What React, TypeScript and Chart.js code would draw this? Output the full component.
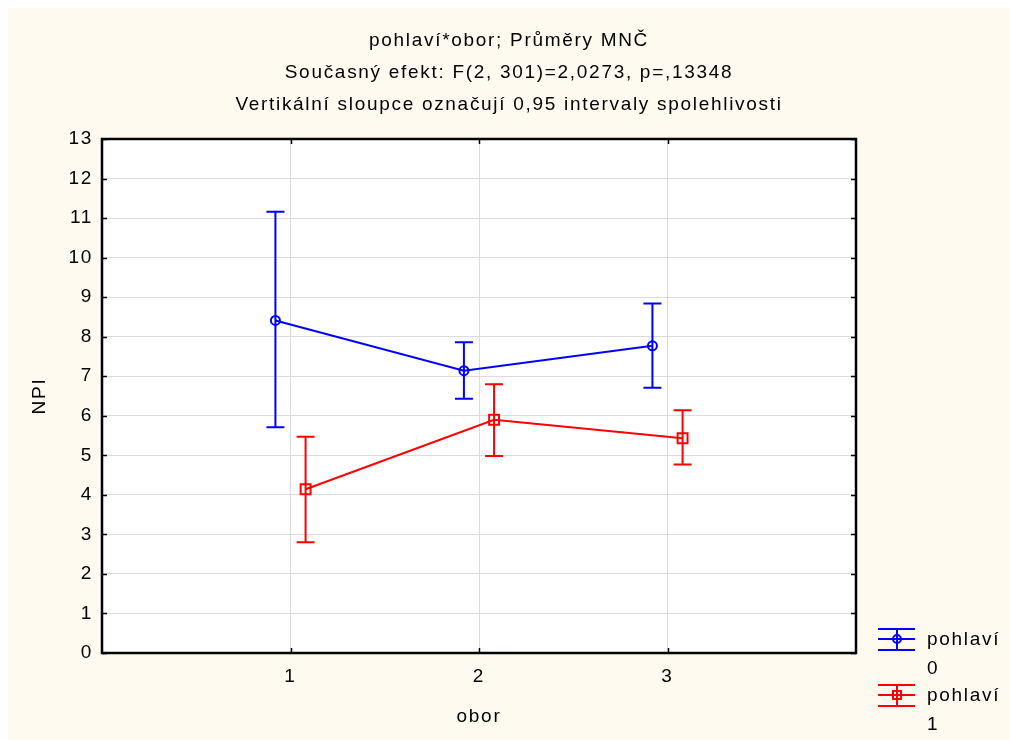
import React, { useEffect, useRef } from "react";
import { Chart, registerables } from "chart.js";

Chart.register(...registerables);

// ---- data ----
const categories = [1, 2, 3];
const tickLabels = ["1", "2", "3"];
const seriesNames = ["pohlaví 0", "pohlaví 1"];
const pohlavi0Mean = [8.41, 7.14, 7.77];
const pohlavi0Lower = [5.71, 6.43, 6.71];
const pohlavi0Upper = [11.16, 7.86, 8.84];
const pohlavi1Mean = [4.14, 5.9, 5.43];
const pohlavi1Lower = [2.8, 4.98, 4.77];
const pohlavi1Upper = [5.47, 6.8, 6.14];
const titleLines = [
  "pohlaví*obor; Průměry MNČ",
  "Současný efekt: F(2, 301)=2,0273, p=,13348",
  "Vertikální sloupce označují 0,95 intervaly spolehlivosti",
];
const xTitle = "obor";
const yTitle = "NPI";

// ---- style constants ----
const DODGE = 0.08;
const FONT = "'Liberation Sans', Arial, sans-serif";
const FSIZE = 19;
const LETTER_SPACING = "1.7px";
const BG = "#FFFAF0";
const BLUE = "#0000FF";
const RED = "#FF0000";
const GRID = "#DCDCDC";

const spacingPlugin = {
  id: "spacing",
  beforeUpdate(chart: any) {
    (chart.ctx as any).letterSpacing = LETTER_SPACING;
  },
  beforeDraw(chart: any) {
    (chart.ctx as any).letterSpacing = LETTER_SPACING;
  },
};

const errorBarPlugin = {
  id: "errorBars",
  afterDatasetsDraw(chart: any) {
    const { ctx } = chart;
    const xs = chart.scales.x;
    const ys = chart.scales.y;
    chart.data.datasets.forEach((ds: any) => {
      ctx.save();
      ctx.strokeStyle = ds.borderColor;
      ctx.lineWidth = 2;
      ds.data.forEach((p: any) => {
        const x = xs.getPixelForValue(p.x);
        const yl = ys.getPixelForValue(p.lo);
        const yh = ys.getPixelForValue(p.hi);
        const cap = 9;
        ctx.beginPath();
        ctx.moveTo(x, yl);
        ctx.lineTo(x, yh);
        ctx.moveTo(x - cap, yl);
        ctx.lineTo(x + cap, yl);
        ctx.moveTo(x - cap, yh);
        ctx.lineTo(x + cap, yh);
        ctx.stroke();
      });
      ctx.restore();
    });
  },
};

const framePlugin = {
  id: "frame",
  beforeDraw(chart: any) {
    const { ctx, width, height, chartArea: a } = chart;
    ctx.save();
    ctx.fillStyle = BG;
    ctx.fillRect(0, 0, width, height);
    ctx.fillStyle = "#FFFFFF";
    ctx.fillRect(a.left, a.top, a.right - a.left, a.bottom - a.top);
    ctx.restore();
  },
  afterDraw(chart: any) {
    const { ctx, chartArea: a } = chart;
    const xs = chart.scales.x;
    const ys = chart.scales.y;
    ctx.save();
    ctx.strokeStyle = "#000";
    ctx.lineWidth = 1.5;
    const t = 5;
    ctx.beginPath();
    ys.ticks.forEach((tk: any) => {
      const y = Math.round(ys.getPixelForValue(tk.value)) + 0.5;
      ctx.moveTo(a.left, y);
      ctx.lineTo(a.left + t, y);
      ctx.moveTo(a.right, y);
      ctx.lineTo(a.right - t, y);
    });
    categories.forEach((c) => {
      const x = Math.round(xs.getPixelForValue(c)) + 0.5;
      ctx.moveTo(x, a.top);
      ctx.lineTo(x, a.top + t);
      ctx.moveTo(x, a.bottom);
      ctx.lineTo(x, a.bottom - t);
    });
    ctx.stroke();
    ctx.lineWidth = 2.5;
    ctx.strokeRect(a.left, a.top, a.right - a.left, a.bottom - a.top);
    ctx.restore();

    // legend
    const items = chart.data.datasets;
    const baseX = 870;
    const baseY = [631, 687];
    items.forEach((ds: any, i: number) => {
      const cy = baseY[i];
      ctx.save();
      ctx.strokeStyle = ds.borderColor;
      ctx.lineWidth = 2;
      ctx.beginPath();
      [-10, 0, 11].forEach((d) => {
        ctx.moveTo(baseX, cy + d);
        ctx.lineTo(baseX + 37, cy + d);
      });
      ctx.moveTo(baseX + 19, cy - 10);
      ctx.lineTo(baseX + 19, cy + 11);
      ctx.stroke();
      ctx.beginPath();
      if (ds.pointStyle === "circle") {
        ctx.arc(baseX + 19, cy, 4, 0, Math.PI * 2);
      } else {
        ctx.rect(baseX + 15, cy - 4, 8, 8);
      }
      ctx.stroke();
      ctx.fillStyle = "#000";
      ctx.font = `${FSIZE}px ${FONT}`;
      ctx.textBaseline = "middle";
      ctx.textAlign = "left";
      const parts = String(ds.label).split(" ");
      parts.forEach((p: string, k: number) => {
        ctx.fillText(p, baseX + 49, cy + 1 + k * 29);
      });
      ctx.restore();
    });
  },
};

export default function App() {
  const ref = useRef<HTMLCanvasElement>(null);
  useEffect(() => {
    if (!ref.current) return;
    const mk = (mean: number[], lo: number[], hi: number[], sign: number) =>
      categories.map((c, i) => ({ x: c + sign * DODGE, y: mean[i], lo: lo[i], hi: hi[i] }));
    const chart = new Chart(ref.current, {
      type: "line",
      data: {
        datasets: [
          {
            label: seriesNames[0],
            data: mk(pohlavi0Mean, pohlavi0Lower, pohlavi0Upper, -1),
            borderColor: BLUE,
            borderWidth: 2,
            pointStyle: "circle",
            pointRadius: 4.5,
            pointBorderWidth: 2,
            pointBackgroundColor: "rgba(0,0,0,0)",
            pointBorderColor: BLUE,
            tension: 0,
          },
          {
            label: seriesNames[1],
            data: mk(pohlavi1Mean, pohlavi1Lower, pohlavi1Upper, 1),
            borderColor: RED,
            borderWidth: 2,
            pointStyle: "rect",
            pointRadius: 7,
            pointBorderWidth: 2,
            pointBackgroundColor: "rgba(0,0,0,0)",
            pointBorderColor: RED,
            tension: 0,
          },
        ] as any,
      },
      options: {
        animation: false,
        responsive: false,
        events: [],
        layout: { padding: 0 },
        plugins: {
          legend: { display: false },
          tooltip: { enabled: false },
          title: {
            display: true,
            text: titleLines,
            color: "#000",
            font: { family: FONT, size: FSIZE, weight: "normal", lineHeight: "32px" } as any,
            padding: { top: 17, bottom: 18 },
          },
        },
        scales: {
          x: {
            type: "linear",
            min: 0,
            max: 4,
            afterFit(s: any) {
              s.height = 87;
            },
            afterBuildTicks(s: any) {
              s.ticks = categories.map((c) => ({ value: c }));
            },
            ticks: {
              autoSkip: false,
              maxRotation: 0,
              padding: 12,
              color: "#000",
              font: { family: FONT, size: FSIZE },
              callback: (v: any) => {
                const i = categories.indexOf(Number(v));
                return i >= 0 ? tickLabels[i] : "";
              },
            },
            grid: { color: GRID, lineWidth: 1, drawTicks: false },
            border: { display: false },
            title: {
              display: true,
              text: xTitle,
              color: "#000",
              font: { family: FONT, size: FSIZE },
              padding: { top: 0, bottom: 12 },
            },
          },
          y: {
            min: 0,
            max: 13,
            afterFit(s: any) {
              s.width = 94;
            },
            ticks: {
              stepSize: 1,
              padding: 9,
              color: "#000",
              font: { family: FONT, size: FSIZE },
            },
            grid: { color: GRID, lineWidth: 1, drawTicks: false },
            border: { display: false },
            title: {
              display: true,
              text: yTitle,
              color: "#000",
              font: { family: FONT, size: FSIZE },
              padding: { top: 20, bottom: 0 },
            },
          },
          yRight: {
            position: "right",
            min: 0,
            max: 13,
            afterFit(s: any) {
              s.width = 154;
            },
            ticks: { display: false },
            grid: { display: false, drawTicks: false },
            border: { display: false },
          },
        },
      } as any,
      plugins: [spacingPlugin, framePlugin, errorBarPlugin],
    });
    return () => chart.destroy();
  }, []);
  return (
    <div style={{ position: "fixed", left: 8, top: 8, width: 1002, height: 732 }}>
      <canvas ref={ref} width={1002} height={732} style={{ display: "block" }} />
    </div>
  );
}
